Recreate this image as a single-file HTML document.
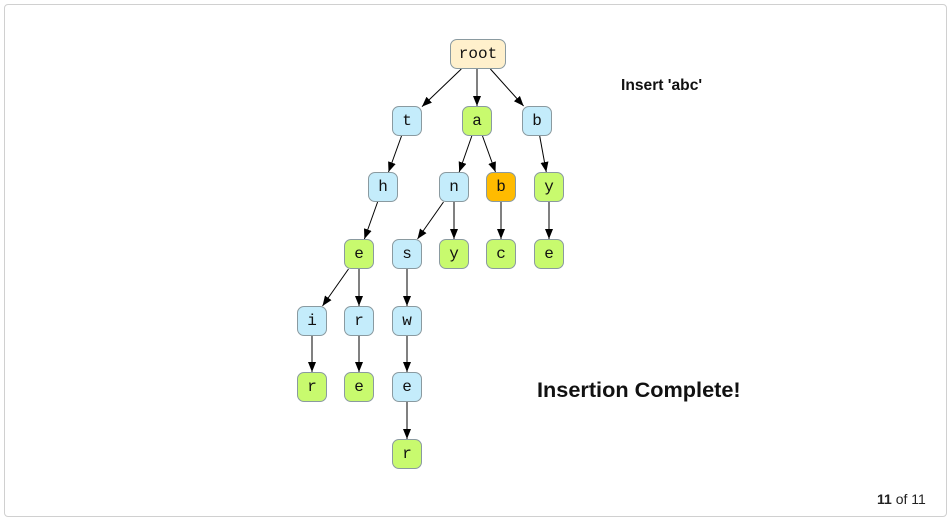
<!DOCTYPE html>
<html><head><meta charset="utf-8"><style>
html,body{margin:0;padding:0;background:#fff;}
body{width:951px;height:520px;position:relative;overflow:hidden;font-family:"Liberation Sans",sans-serif;}
.frame{position:absolute;left:4px;top:4px;width:941px;height:511px;border:1px solid #d0d0d0;border-radius:4px;}
.n{position:absolute;border:1px solid #8a9aa0;border-radius:7px;box-sizing:border-box;width:30px;height:30px;display:flex;align-items:center;justify-content:center;font-family:"Liberation Mono",monospace;font-size:16px;color:#111;}
.bl{background:#c4ecfb;}
.gr{background:#c8fa6e;}
.or{background:#ffbb00;}
</style></head><body>
<div class="frame"></div>
<svg width="951" height="520" style="position:absolute;left:0;top:0">
<defs><marker id="a" markerWidth="10" markerHeight="8" refX="10" refY="4" orient="auto" markerUnits="userSpaceOnUse"><path d="M0,0 L10,4 L0,8 z" fill="#000"/></marker></defs>
<g stroke="#000" stroke-width="1" marker-end="url(#a)">
<line x1="461.3" y1="69" x2="422" y2="106.6"/>
<line x1="477" y1="69" x2="477" y2="106"/>
<line x1="490.4" y1="69" x2="523.6" y2="106"/>
<line x1="401.5" y1="136" x2="388.5" y2="172"/>
<line x1="471.8" y1="136" x2="459.2" y2="172"/>
<line x1="482.5" y1="136" x2="495.5" y2="172"/>
<line x1="539.7" y1="136" x2="546.3" y2="172"/>
<line x1="377.6" y1="202" x2="364.4" y2="239"/>
<line x1="443.5" y1="202" x2="417.5" y2="239"/>
<line x1="454" y1="202" x2="454" y2="239"/>
<line x1="501" y1="202" x2="501" y2="239"/>
<line x1="549" y1="202" x2="549" y2="239"/>
<line x1="348.5" y1="269" x2="322.5" y2="306"/>
<line x1="359" y1="269" x2="359" y2="306"/>
<line x1="407" y1="269" x2="407" y2="306"/>
<line x1="312" y1="336" x2="312" y2="372"/>
<line x1="359" y1="336" x2="359" y2="372"/>
<line x1="407" y1="336" x2="407" y2="372"/>
<line x1="407" y1="402" x2="407" y2="439"/>
</g>
</svg>
<div class="n" style="left:450px;top:39px;width:56px;background:#fff0cc;">root</div>
<div class="n bl" style="left:392px;top:106px">t</div>
<div class="n gr" style="left:462px;top:106px">a</div>
<div class="n bl" style="left:522px;top:106px">b</div>
<div class="n bl" style="left:368px;top:172px">h</div>
<div class="n bl" style="left:439px;top:172px">n</div>
<div class="n or" style="left:486px;top:172px">b</div>
<div class="n gr" style="left:534px;top:172px">y</div>
<div class="n gr" style="left:344px;top:239px">e</div>
<div class="n bl" style="left:392px;top:239px">s</div>
<div class="n gr" style="left:439px;top:239px">y</div>
<div class="n gr" style="left:486px;top:239px">c</div>
<div class="n gr" style="left:534px;top:239px">e</div>
<div class="n bl" style="left:297px;top:306px">i</div>
<div class="n bl" style="left:344px;top:306px">r</div>
<div class="n bl" style="left:392px;top:306px">w</div>
<div class="n gr" style="left:297px;top:372px">r</div>
<div class="n gr" style="left:344px;top:372px">e</div>
<div class="n bl" style="left:392px;top:372px">e</div>
<div class="n gr" style="left:392px;top:439px">r</div>
<div style="position:absolute;left:621px;top:77px;font-weight:bold;font-size:15.6px;color:#111">Insert 'abc'</div>
<div style="position:absolute;left:537px;top:377px;font-weight:bold;font-size:21.7px;color:#111">Insertion Complete!</div>
<div style="position:absolute;left:877px;top:491px;font-size:14px;color:#222"><b>11</b> of 11</div>
</body></html>
